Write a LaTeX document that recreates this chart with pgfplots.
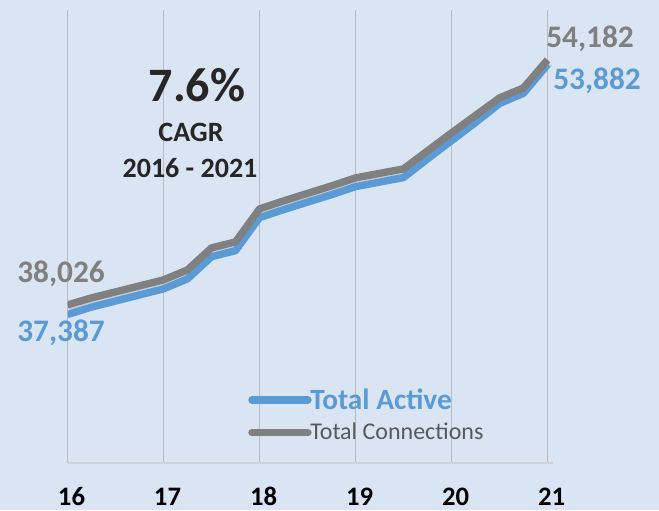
\documentclass[border=0pt]{standalone}
\usepackage{pgfplots}
\usepackage{pgfplotstable}
\pgfplotsset{compat=1.18}
\usepackage{fontspec}
\setmainfont{Carlito}
\definecolor{bg}{RGB}{218,229,243}
\definecolor{myblue}{RGB}{91,155,213}
\definecolor{mygray}{RGB}{128,128,128}
\definecolor{darktext}{RGB}{38,38,38}
\definecolor{legtext}{RGB}{89,89,89}
\definecolor{gridc}{RGB}{186,188,194}
\definecolor{axisc}{RGB}{210,210,214}

\pgfplotstableread{
x y
16 37387
16.25 37880
16.5 38280
16.75 38680
17 39080
17.25 39740
17.5 41200
17.75 41600
18 43780
18.25 44300
18.5 44800
18.75 45290
19 45820
19.25 46120
19.5 46420
19.75 47650
20 48850
20.25 50050
20.5 51300
20.75 51980
21 53882
}\activetab

\pgfplotstableread{
x y
16 38026
16.25 38488
16.5 38884
16.75 39280
17 39675
17.25 40335
17.5 41785
17.75 42181
18 44357
18.25 44884
18.5 45379
18.75 45874
19 46401
19.25 46698
19.5 46995
19.75 48181
20 49368
20.25 50522
20.5 51676
20.75 52336
21 54182
}\conntab

\begin{document}
\begin{tikzpicture}
\fill[bg] (0,0) rectangle (494.25pt,382.5pt);
\useasboundingbox (0,0) rectangle (494.25pt,382.5pt);
\begin{axis}[
  at={(50.625pt,35.25pt)}, anchor=south west,
  scale only axis, width=364.125pt, height=339.75pt,
  xmin=16, xmax=21.057, ymin=27600, ymax=57470,
  axis x line=bottom, axis y line=none,
  axis line style={draw=axisc, line width=1.5pt, -},
  xtick={16,17,18,19,20,21}, xticklabels={16,17,18,19,20,21},
  major tick length=0pt,
  xmajorgrids, grid style={draw=gridc, line width=0.75pt},
  ytick=\empty,
  xticklabel style={font=\bfseries\fontsize{20}{24}\selectfont, text=black, anchor=base, yshift=-31.5pt, xshift=3pt},
  legend style={at={(0.3718,0.1678)}, anchor=north west, draw=none, fill=none,
    inner sep=0pt, row sep=7pt, column sep=-2pt, nodes={inner sep=1pt}},
  legend cell align=left,
  legend image code/.code={\draw[#1, line cap=round] (0pt,0pt) -- (42pt,0pt);},
]
\addplot[forget plot, draw=black, opacity=0.10, line width=6pt, line join=round, yshift=-2.5pt, xshift=1pt] table[x=x,y=y] {\conntab};
\addplot[myblue, line width=5.5pt, line join=round] table[x=x,y=y] {\activetab};
\addlegendentry{\textcolor{myblue}{\bfseries\fontsize{22}{26}\selectfont Total Active}}
\addplot[mygray, line width=5.5pt, line join=round] table[x=x,y=y] {\conntab};
\addlegendentry{\textcolor{legtext}{\fontsize{18}{22}\selectfont Total Connections}}
\end{axis}
\node[anchor=base, text=mygray, font=\bfseries\fontsize{23.5}{28}\selectfont] at (45.75pt,170.25pt) {38,026};
\node[anchor=base, text=myblue, font=\bfseries\fontsize{23.5}{28}\selectfont] at (45.75pt,126pt) {37,387};
\node[anchor=base, text=mygray, font=\bfseries\fontsize{23.5}{28}\selectfont] at (442.5pt,346.5pt) {54,182};
\node[anchor=base, text=myblue, font=\bfseries\fontsize{23.5}{28}\selectfont] at (447.75pt,315pt) {53,882};
\node[anchor=base, text=darktext, font=\bfseries\fontsize{36}{40}\selectfont] at (147.75pt,306pt) {7.6\%};
\node[anchor=base, text=darktext, font=\bfseries\fontsize{21}{25}\selectfont] at (143.25pt,276pt) {CAGR};
\node[anchor=base, text=darktext, font=\bfseries\fontsize{21}{25}\selectfont] at (142.5pt,249pt) {2016 - 2021};
\end{tikzpicture}
\end{document}
